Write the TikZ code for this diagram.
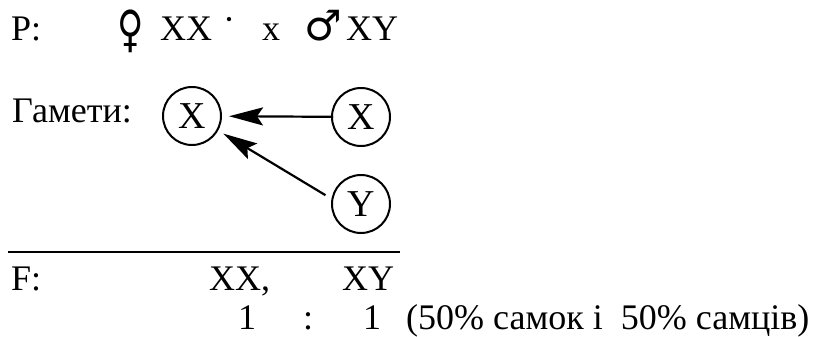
\documentclass[tikz,border=0pt]{standalone}
\usepackage{fontspec}
\usepackage{graphicx}
\setmainfont{Liberation Serif}
\newfontfamily\symfont{DejaVu Sans}
\usetikzlibrary{arrows.meta}
\tikzset{
  txt/.style={anchor=base west, inner sep=0pt, font=\fontsize{36}{40}\selectfont},
  gam/.style={circle, draw, line width=2pt, minimum size=58pt, inner sep=0pt, font=\fontsize{38}{40}\selectfont},
  arr/.style={line width=2.2pt, -{Stealth[length=34pt,width=18pt,inset=6pt]}},
  rule/.style={line width=2.5pt}
}
\begin{document}
\begin{tikzpicture}[x=1pt,y=-1pt]
\useasboundingbox (0,0) rectangle (824,337);
% row P
\node[txt] (p) at (11,41) {P:};
\node[txt, font=\symfont\fontsize{50}{54}\selectfont] (fem) at (117,47) {\scalebox{0.72}[1]{♀}};
\node[txt] (pxx) at (160,41) {XX};
\node[txt] (dot) at (223,32) {·};
\node[txt] (cross) at (262,41) {x};
\node[txt, font=\symfont\fontsize{42}{46}\selectfont] (mal) at (304,41) {♂};
\node[txt] (pxy) at (346,41) {XY};
% gametes
\node[txt] (gl) at (12,122) {Гамети:};
\node[gam] (g1) at (192,116) {X};
\node[gam] (g2) at (361,117) {X};
\node[gam] (g3) at (361,204) {Y};
\draw[arr, shorten >=7pt, shorten <=-2pt] (g2) -- (g1);
\draw[arr, shorten >=6pt, shorten <=7pt] (g3.170) -- (g1.-29);
% rule
\coordinate (r1) at (8,252);
\coordinate (r2) at (400,252);
\draw[rule] (r1) -- (r2);
% F row
\node[txt] (f) at (11,290) {F:};
\node[txt] (fxx) at (209,290) {XX,};
\node[txt] (fxy) at (342,290) {XY};
% ratio
\node[txt] (n1) at (238,329) {1};
\node[txt] (col) at (303,329) {:};
\node[txt] (n2) at (363,329) {1};
\node[txt] (pct) at (406,329) {(50\% самок і \ 50\% самців)};
\end{tikzpicture}
\end{document}
